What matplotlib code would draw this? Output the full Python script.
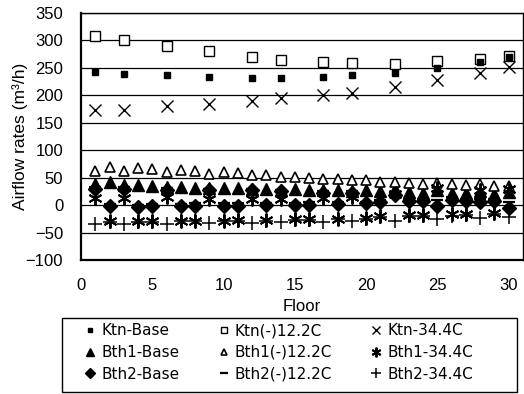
import matplotlib
matplotlib.use('Agg')
import numpy as np
import matplotlib.pyplot as plt
from matplotlib.patches import Rectangle

# kitchen measurements (floors where kitchens were tested)
ktn_floors = [1, 3, 6, 9, 12, 14, 17, 19, 22, 25, 28, 30]
ktn_base = [242, 238, 237, 233, 232, 232, 233, 237, 241, 250, 261, 270]
ktn_cold = [308, 300, 290, 280, 270, 265, 261, 259, 258, 262, 267, 271]
ktn_hot = [174, 174, 181, 185, 189, 195, 201, 204, 216, 228, 240, 252]

# bathroom measurements, every floor 1..30
bth_floors = list(range(1, 31))
bth1_base = [38, 43, 37, 36, 35, 33, 33, 32, 31, 32, 31, 30, 29, 28, 29,
             27, 27, 27, 26, 27, 25, 30, 24, 23, 28, 22, 22, 26, 21, 24]
bth1_cold = [63, 69, 62, 68, 66, 60, 64, 63, 57, 60, 58, 54, 54, 52, 52,
             50, 48, 47, 46, 46, 43, 42, 41, 39, 40, 39, 37, 38, 35, 34]
bth1_hot = [13, -29, 13, -29, -29, 14, -28, -28, 12, -28, -27, 12, -27, 12, -26,
            -26, 13, -25, 14, -24, -20, 20, -18, -18, 32, -17, -16, 28, -15, 30]
bth2_base = [30, -2, 30, -3, -2, 28, -2, -1, 28, -1, -1, 27, 0, 25, 0,
             1, 23, 2, 22, 3, 6, 18, 8, 8, -2, 10, 8, 6, 8, -6]
bth2_cold = [33, 2, 33, 1, 2, 31, 2, 3, 30, 3, 3, 29, 4, 28, 4,
             5, 26, 5, 25, 6, 10, 22, 12, 12, 10, 14, 12, 12, 12, 5]
bth2_hot = [-35, -30, -35, -30, -30, -34, -29, -29, -33, -29, -28, -32, -28, -31, -27,
            -27, -30, -26, -29, -25, -22, -29, -20, -20, -26, -19, -18, -24, -17, -22]

plt.rcParams['font.family'] = ['Liberation Sans', 'DejaVu Sans']


def main():
    fig = plt.figure(figsize=(5.24, 3.94), dpi=100)
    ax = fig.add_axes([0.155, 0.34, 0.843, 0.627])

    for v in range(-50, 351, 50):
        ax.axhline(v, color='black', lw=0.9, zorder=1)

    h = {}
    h['Ktn-Base'], = ax.plot(ktn_floors, ktn_base, ls='none', marker='s', ms=5,
                             color='black', zorder=3)
    h['Ktn(-)12.2C'], = ax.plot(ktn_floors, ktn_cold, ls='none', marker='s', ms=6.5,
                                mfc='white', mec='black', mew=1, zorder=2)
    h['Ktn-34.4C'], = ax.plot(ktn_floors, ktn_hot, ls='none', marker='x', ms=8.5,
                              mew=1, color='black', zorder=3)

    h['Bth1-Base'], = ax.plot(bth_floors, bth1_base, ls='none', marker='^', ms=8,
                              color='black', zorder=3)
    h['Bth1(-)12.2C'], = ax.plot(bth_floors, bth1_cold, ls='none', marker='^', ms=7,
                                 mfc='white', mec='black', mew=1.2, zorder=3)
    h['Bth1-34.4C'], = ax.plot(bth_floors, bth1_hot, ls='none', marker=(6, 2, 0), ms=10,
                               mew=1.4, color='black', zorder=3)
    h['Bth2-Base'], = ax.plot(bth_floors, bth2_base, ls='none', marker='D', ms=7,
                              color='black', zorder=3)
    h['Bth2(-)12.2C'], = ax.plot(bth_floors, bth2_cold, ls='none', marker='_', ms=9,
                                 mew=1.6, color='black', zorder=3)
    h['Bth2-34.4C'], = ax.plot(bth_floors, bth2_hot, ls='none', marker='+', ms=9.5,
                               mew=1.1, color='black', zorder=3)

    ax.set_xlim(0, 31)
    ax.set_ylim(-100, 350)
    ax.set_xticks(range(0, 31, 5))
    ax.set_yticks(range(-100, 351, 50))
    ax.tick_params(labelsize=12, length=0)
    ax.tick_params(axis='y', pad=13)
    ax.tick_params(axis='x', pad=13)
    for s in ax.spines.values():
        s.set_linewidth(1.0)
    ax.spines['left'].set_linewidth(1.6)
    ax.spines['bottom'].set_linewidth(1.6)

    ax.set_xlabel('Floor', fontsize=12, labelpad=4)
    ax.set_ylabel('Airflow rates (m³/h)', fontsize=12.5, labelpad=-2)

    order = ['Ktn-Base', 'Bth1-Base', 'Bth2-Base',
             'Ktn(-)12.2C', 'Bth1(-)12.2C', 'Bth2(-)12.2C',
             'Ktn-34.4C', 'Bth1-34.4C', 'Bth2-34.4C']
    fig.legend([h[k] for k in order], order, ncol=3, loc='upper left',
               bbox_to_anchor=(82 / 524, 1 - 320 / 394),
               prop={'family': 'DejaVu Sans', 'size': 11}, frameon=False,
               markerscale=0.7, handlelength=0.7, handletextpad=0.4,
               labelspacing=0.45, borderpad=0.2, columnspacing=2.5,
               borderaxespad=0)
    fig.patches.append(Rectangle((62 / 524, 2 / 394), 455 / 524, 74 / 394,
                                 transform=fig.transFigure, fill=False,
                                 edgecolor='black', lw=1.0))

    fig.savefig('out.png', dpi=100)


if __name__ == '__main__':
    main()
